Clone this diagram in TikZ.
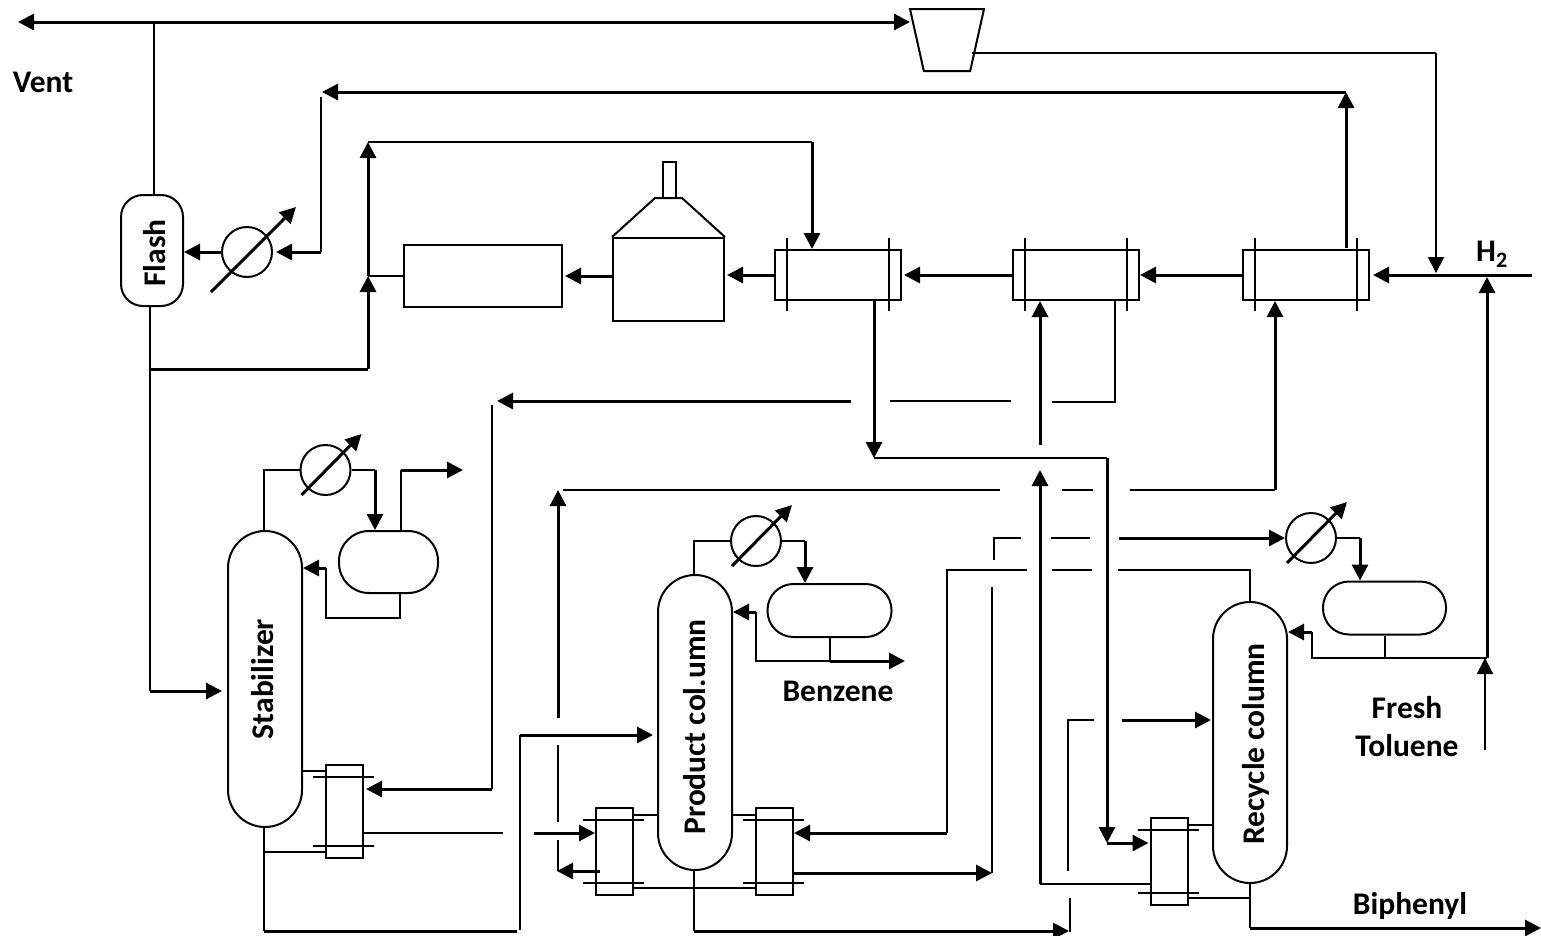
\documentclass[tikz,border=0pt]{standalone}
\usepackage{fontspec}
\setmainfont{Carlito}
\usetikzlibrary{arrows.meta,shapes.geometric}
\tikzset{
  unit/.style={draw, line width=2pt, inner sep=0pt, fill=none},
  column/.style={unit, rectangle, rounded corners=37pt, minimum width=74pt},
  drum/.style={unit, rectangle, rounded corners=26pt},
  cooler/.style={unit, circle, minimum size=50pt},
  hxh/.style={unit, rectangle, minimum width=126pt, minimum height=50pt},
  hxv/.style={unit, rectangle, minimum width=37pt, minimum height=87pt},
  tag/.style={inner sep=0pt, font=\bfseries\fontsize{31.5}{38}\selectfont},
  pipe/.style={line width=2pt},
  flow/.style={line width=3pt},
}
\begin{document}
\begin{tikzpicture}[x=1pt, y=-1pt, >={Triangle[length=16pt,width=16pt]}]
    \useasboundingbox (0,0) rectangle (1541,935);

    \node[unit, trapezium, trapezium stretches=true, shape border rotate=180, trapezium angle=73.4,
      inner sep=1pt, minimum width=74pt, minimum height=62pt] (comp) at (947,40) {};
    \node[unit, rectangle, rounded corners=22pt, minimum width=62pt, minimum height=111pt] (flash) at (152,250.5) {};
    \node[cooler] (cfl) at (247,252) {};
    \node[unit, rectangle, minimum width=158pt, minimum height=62pt] (reac) at (483,276) {};
    \node[unit, rectangle, minimum width=111pt, minimum height=83pt] (furn) at (668.5,279.5) {};
    \node[unit, rectangle, minimum width=13pt, minimum height=36pt] (stack) at (669.5,180) {};
    \draw[pipe] (furn.north west) -- (655,198) -- (682,198) -- (furn.north east);
    \node[hxh] (hxa) at (838,275) {};
    \node[hxh] (hxb) at (1076,275) {};
    \node[hxh] (hxc) at (1306,275) {};

    \node[column, minimum height=296pt] (stab) at (265,679) {};
    \node[column, minimum height=295pt] (prod) at (695,722.5) {};
    \node[column, minimum height=281pt] (recy) at (1250,742.5) {};
    \node[cooler] (cst) at (325.5,470) {};
    \node[cooler] (cpr) at (756,541) {};
    \node[cooler] (crc) at (1311,538) {};
    \node[drum, minimum width=99pt, minimum height=62pt, rounded corners=30pt] (dst) at (388.5,562) {};
    \node[drum, minimum width=124pt, minimum height=53pt] (dpr) at (829.5,610.5) {};
    \node[drum, minimum width=123pt, minimum height=53pt] (drc) at (1384.5,608) {};
    \node[hxv, minimum height=93pt] (hxs) at (344.5,811.5) {};
    \node[hxv] (hxl) at (614.5,851.5) {};
    \node[hxv] (hxr) at (774.5,851.5) {};
    \node[hxv] (hxt) at (1169,861.5) {};

    \foreach \n in {hxa,hxb,hxc} {
      \draw[pipe] ([xshift=13pt]\n.north west) ++(0,-11) -- ++(0,73);
      \draw[pipe] ([xshift=-13pt]\n.north east) ++(0,-11) -- ++(0,73);
    }
    \foreach \n in {hxs,hxl,hxr,hxt} {
      \draw[pipe] ([yshift=-13pt]\n.north west) ++(-12,0) -- ++(61,0);
      \draw[pipe] ([yshift=13pt]\n.south west) ++(-12,0) -- ++(61,0);
    }
    \draw[flow,->] ([shift={(-36,40)}]cfl.center) -- ([shift={(49,-45)}]cfl.center);
    \foreach \n in {cst,cpr,crc}
      \draw[flow,->] ([shift={(-24,25)}]\n.center) -- ([shift={(36,-36)}]\n.center);

    \node[tag] (vent) at (43,82) {Vent};
    \node[tag] (htwo) at (1492,254) {H\textsubscript{2}};
    \node[tag] (benz) at (838,691) {Benzene};
    \node[tag, align=center] (fresh) at (1407,727) {Fresh\\Toluene};
    \node[tag] (biph) at (1410,906) {Biphenyl};
    \node[tag, rotate=90] (flashtag) at (155,253) {Flash};
    \node[tag, rotate=90] (stabtag) at (263,679) {Stabilizer};
    \node[tag, rotate=90] (prodtag) at (695,727) {Product col.umn};
    \node[tag, rotate=90] (recytag) at (1256,744) {Recycle column};

    \coordinate (ventjoin) at (154,22);
    \coordinate (ventend) at (18,22);
    \coordinate (compin) at (910,22);
    \coordinate (compout) at (972,53);
    \coordinate (compbend) at (1436,53);
    \coordinate (compend) at (1436,273);
    \draw[flow,->] (ventjoin) -- (ventend);
    \draw[flow,->] (ventjoin) -- (compin);
    \draw[pipe] (ventjoin) -- (ventjoin |- flash.north);
    \draw[pipe] (compout) -- (compbend);
    \draw[pipe,->] (compbend) -- (compend);

    \coordinate (feedend) at (1532,275);
    \draw[flow,->, shorten >=3pt] (feedend) -- (hxc.east);
    \draw[flow,->] (hxc.west) -- (hxb.east);
    \draw[flow,->, shorten >=2pt] (hxb.west) -- (hxa.east);
    \draw[flow,->, shorten >=2pt] (hxa.west) -- (furn.east |- hxa.west);
    \draw[flow,->, shorten >=2pt] (furn.west |- reac.east) -- (reac.east);

    \coordinate (gasstart) at (1346,248);
    \coordinate (gastop) at (1346,92);
    \coordinate (gasend) at (322,92);
    \coordinate (gasleft) at (321,97);
    \coordinate (gasbend) at (321,252);
    \draw[flow,->] (gasstart) -- (gastop);
    \draw[flow,->] (gastop) -- (gasend);
    \draw[pipe] (gasleft) -- (gasbend);
    \draw[flow,->, shorten >=3pt] (gasbend) -- (cfl.east);
    \draw[flow,->] (cfl.west) -- (flash.east |- cfl.west);

    \coordinate (mixtop) at (368,142);
    \coordinate (mixjoin) at (368,276);
    \coordinate (mixlow) at (368,369);
    \coordinate (hotin) at (812,142);
    \coordinate (flashjoin) at (150,369);
    \coordinate (stabfeed) at (150,691);
    \draw[flow,->] (mixjoin) -- (mixtop);
    \draw[pipe] (mixjoin) -- (reac.west);
    \draw[pipe] (mixtop) -- (hotin);
    \draw[flow,->] (hotin) -- (hotin |- hxa.north);
    \draw[flow,->] (mixlow) -- (mixjoin);
    \draw[flow] (flashjoin) -- (mixlow);
    \draw[pipe] (flashjoin |- flash.south) -- (stabfeed);
    \draw[flow,->, shorten >=5pt] (stabfeed) -- (stab.west |- stabfeed);

    \coordinate (quenchend) at (874,458);
    \coordinate (quenchr) at (1107,458);
    \coordinate (quenchb) at (1107,843);
    \draw[flow,->] (quenchend |- hxa.south) -- (quenchend);
    \draw[pipe] (quenchend) -- (quenchr);
    \draw[flow,->] (quenchr) -- (quenchb);
    \draw[flow,->, shorten >=1pt] (quenchb) -- (hxt.west |- quenchb);

    \coordinate (riseb) at (1040,445);
    \coordinate (risec) at (1275,490);
    \coordinate (retb) at (1115,402);
    \coordinate (retc) at (1052,402);
    \coordinate (lineaa) at (1011,401);
    \coordinate (lineab) at (890,401);
    \coordinate (lineac) at (851,401);
    \coordinate (linead) at (497,401);
    \coordinate (linetop) at (492,405);
    \coordinate (linebot) at (492,789);
    \draw[flow,->] (riseb) -- (riseb |- hxb.south);
    \draw[flow,->] (risec) -- (risec |- hxc.south);
    \draw[pipe] (retb |- hxb.south) -- (retb) -- (retc);
    \draw[pipe] (lineaa) -- (lineab);
    \draw[flow,->] (lineac) -- (linead);
    \draw[pipe] (linetop) -- (linebot);
    \draw[flow,->, shorten >=2pt] (linebot) -- (hxs.east |- linebot);

    \coordinate (upa) at (1130,490);
    \coordinate (upb) at (1093,490);
    \coordinate (upc) at (1062,490);
    \coordinate (upd) at (1000,490);
    \coordinate (upe) at (563,490);
    \coordinate (uptip) at (558,490);
    \coordinate (upbot) at (558,718);
    \coordinate (upf) at (558,745);
    \coordinate (upg) at (558,822);
    \coordinate (uph) at (558,840);
    \coordinate (upi) at (557,871);
    \coordinate (upj) at (600,871);
    \draw[pipe] (upa) -- (risec);
    \draw[pipe] (upb) -- (upc);
    \draw[pipe] (upd) -- (upe);
    \draw[flow,->] (upbot) -- (uptip);
    \draw[pipe] (upf) -- (upg);
    \draw[pipe] (uph) -- (upi -| uph);
    \draw[flow,->] (upj) -- (upi);

    \coordinate (recbot) at (1040,884);
    \coordinate (rectip) at (1040,470);
    \draw[flow,->] (recbot) -- (rectip);
    \draw[pipe] (recbot) -- (recbot -| hxt.west);

    \coordinate (ohead) at (994,560);
    \coordinate (ohb) at (994,538);
    \coordinate (ohc) at (1021,538);
    \coordinate (ohd) at (1051,538);
    \coordinate (ohe) at (1090,538);
    \coordinate (ohf) at (1119,538);
    \draw[pipe] (ohead) -- (ohb) -- (ohc);
    \draw[pipe] (ohd) -- (ohe);
    \draw[flow,->] (ohf) -- (crc.west);
    \coordinate (rcb) at (1360,538);
    \draw[pipe] (crc.east) -- (rcb);
    \draw[flow,->] (rcb) -- (rcb |- drc.north);

    \coordinate (topa) at (1250,570);
    \coordinate (topb) at (1118,570);
    \coordinate (topc) at (1092,570);
    \coordinate (topd) at (1052,570);
    \coordinate (tope) at (1027,570);
    \coordinate (topf) at (947,570);
    \coordinate (topg) at (947,833);
    \draw[pipe] (recy.north) -- (topa) -- (topb);
    \draw[pipe] (topc) -- (topd);
    \draw[pipe] (tope) -- (topf) -- (topg);
    \draw[flow,->] (topg) -- (hxr.east |- topg);

    \coordinate (sida) at (992,587);
    \coordinate (sidb) at (992,873);
    \draw[pipe] (sida) -- (sidb);
    \draw[flow,->] (hxr.east |- sidb) -- (sidb);

    \coordinate (rflux) at (1385,658);
    \coordinate (rfluxb) at (1312,658);
    \coordinate (rfluxc) at (1312,632);
    \coordinate (tolj) at (1487,658);
    \coordinate (tola) at (1485,750);
    \coordinate (tolb) at (1487,277);
    \draw[pipe] (rflux -| drc.south) -- (drc.south);
    \draw[pipe] (tolj) -- (rfluxb) -- (rfluxc);
    \draw[flow,->] (rfluxc) -- (recy.east |- rfluxc);
    \draw[pipe,->] (tola) -- (tola |- tolj);
    \draw[flow,->] (tolj) -- (tolb);

    \coordinate (rfeedd) at (1211,720);
    \coordinate (rfeedc) at (1122,720);
    \coordinate (rfeedb) at (1094,720);
    \coordinate (rfeeda) at (1068,720);
    \coordinate (rfeedz) at (1068,871);
    \coordinate (pbota) at (1070,898);
    \coordinate (pbotb) at (1070,932);
    \coordinate (pbotc) at (1069,931);
    \coordinate (pbotd) at (694,931);
    \draw[flow,->] (rfeedc) -- (rfeedd);
    \draw[pipe] (rfeedb) -- (rfeeda) -- (rfeedz);
    \draw[pipe] (pbota) -- (pbotb);
    \draw[flow,->] (pbotd) -- (pbotc);
    \draw[pipe] (prod.south -| pbotd) -- (pbotd);

    \coordinate (bipa) at (1250,928);
    \coordinate (bipb) at (1541,928);
    \coordinate (bipc) at (1250,898);
    \draw[pipe] (recy.south) -- (bipa);
    \draw[flow,->] (bipa) -- (bipb);
    \draw[pipe] (bipc) -- (bipc -| hxt.east);
    \coordinate (bipd) at (1213,825);
    \draw[pipe] (bipd) -- (bipd -| hxt.east);

    \coordinate (prt) at (694,541);
    \coordinate (prr) at (805,541);
    \coordinate (prd) at (830,661);
    \coordinate (pre) at (905,661);
    \coordinate (prf) at (756,661);
    \coordinate (prg) at (756,612);
    \draw[pipe] (prt |- prod.north) -- (prt) -- (cpr.west);
    \draw[pipe] (cpr.east) -- (prr);
    \draw[flow,->] (prr) -- (prr |- dpr.north);
    \draw[pipe] (dpr.south -| prd) -- (prd) -- (prf) -- (prg);
    \draw[flow,->] (prg) -- (prod.east |- prg);
    \draw[flow,->] (prd) -- (pre);

    \coordinate (pra) at (732,815);
    \coordinate (prb) at (658,815);
    \coordinate (prc) at (633,888);
    \draw[pipe] (pra) -- (pra -| hxr.west);
    \draw[pipe] (prb) -- (prb -| hxl.east);
    \draw[pipe] (prc) -- (prc -| hxr.west);

    \coordinate (stt) at (264,470);
    \coordinate (str) at (375,470);
    \coordinate (stu) at (401,470);
    \coordinate (stv) at (463,470);
    \coordinate (stb) at (400,618);
    \coordinate (stc) at (326,618);
    \coordinate (std) at (326,568);
    \draw[pipe] (stt |- stab.north) -- (stt) -- (cst.west);
    \draw[pipe] (cst.east) -- (str);
    \draw[flow,->] (str) -- (str |- dst.north);
    \draw[pipe] (stu |- dst.north) -- (stu);
    \draw[flow,->] (stu) -- (stv);
    \draw[pipe] (stb |- dst.south) -- (stb) -- (stc) -- (std);
    \draw[flow,->] (std) -- (stab.east |- std);

    \coordinate (sha) at (302,771);
    \coordinate (shb) at (264,852);
    \coordinate (shc) at (503,833);
    \coordinate (shd) at (534,833);
    \coordinate (she) at (264,931);
    \coordinate (shf) at (517,931);
    \coordinate (shg) at (520,930);
    \coordinate (shh) at (520,735);
    \coordinate (shi) at (653,735);
    \draw[pipe] (sha) -- (sha -| hxs.west);
    \draw[pipe] (shb) -- (shb -| hxs.west);
    \draw[pipe] (hxs.east |- shc) -- (shc);
    \draw[flow,->] (shd) -- (shd -| hxl.west);
    \draw[pipe] (stab.south -| she) -- (she);
    \draw[flow] (she) -- (shf);
    \draw[pipe] (shg) -- (shh);
    \draw[flow,->] (shh) -- (shi);
  \end{tikzpicture}
\end{document}
